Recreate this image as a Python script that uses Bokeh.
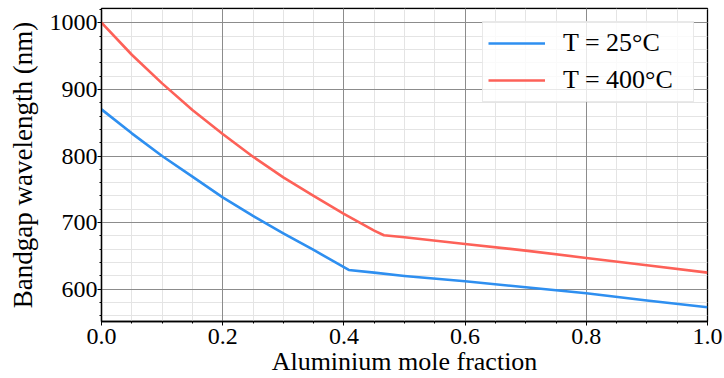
import numpy as np
from bokeh.plotting import figure
from bokeh.models import FixedTicker, Legend, LegendItem, Range1d, Grid
from bokeh.embed import file_html
from bokeh.resources import INLINE

# Aluminium mole fraction vs bandgap wavelength (nm)
x_25 = [0.0, 0.05, 0.10, 0.15, 0.20, 0.25, 0.30, 0.35, 0.408, 0.45, 0.50, 0.60, 0.70, 0.80, 0.90, 1.0]
wl_25 = [870, 834, 800, 769, 738, 710, 684, 659, 629, 625, 620, 612, 603, 594, 583, 573]

x_400 = [0.0, 0.05, 0.10, 0.15, 0.20, 0.25, 0.30, 0.35, 0.40, 0.45, 0.466, 0.50, 0.60, 0.70, 0.80, 0.90, 1.0]
wl_400 = [1000, 952, 909, 869, 833, 799, 768, 740, 713, 688, 681, 678, 668, 658, 647, 636, 625]

series_labels = ["T = 25°C", "T = 400°C"]
series_colors = ["#2e8ff0", "#fd6158"]

xticks = [0.0, 0.2, 0.4, 0.6, 0.8, 1.0]
xtick_labels = ["0.0", "0.2", "0.4", "0.6", "0.8", "1.0"]
yticks = [600, 700, 800, 900, 1000]
ytick_labels = ["600", "700", "800", "900", "1000"]

x_title = "Aluminium mole fraction"
y_title = "Bandgap wavelength (nm)"

FONT = "Liberation Serif"

p = figure(width=724, height=378, output_backend="svg", toolbar_location=None,
           x_range=Range1d(0, 1), y_range=Range1d(551.6, 1021.4),
           min_border_left=101, min_border_right=17, min_border_top=8, min_border_bottom=0)

p.background_fill_color = "white"
p.border_fill_color = "white"
p.outline_line_color = "black"
p.outline_line_width = 1.3

x_minor = [float(v) for v in np.round(np.arange(0, 1.0001, 0.05), 2)]
y_minor = [float(v) for v in np.arange(560, 1021, 20)]
p.xaxis.ticker = FixedTicker(ticks=xticks, minor_ticks=x_minor)
p.yaxis.ticker = FixedTicker(ticks=yticks, minor_ticks=y_minor)
p.xaxis.major_label_overrides = {t: l for t, l in zip(xticks, xtick_labels)}
p.yaxis.major_label_overrides = {t: l for t, l in zip(yticks, ytick_labels)}

for ax in (p.xaxis, p.yaxis):
    ax.axis_line_color = "black"
    ax.axis_line_width = 1.3
    ax.major_tick_line_color = "black"
    ax.minor_tick_line_color = "black"
    ax.major_tick_in = 0
    ax.major_tick_out = 4
    ax.minor_tick_in = 0
    ax.minor_tick_out = 2
    ax.major_label_text_font = FONT
    ax.major_label_text_font_size = "24px"
    ax.major_label_text_color = "black"
    ax.axis_label_text_font = FONT
    ax.axis_label_text_font_style = "normal"
    ax.axis_label_text_color = "black"

p.xaxis.axis_label = x_title
p.yaxis.axis_label = y_title
p.xaxis.axis_label_text_font_size = "26px"
p.yaxis.axis_label_text_font_size = "27px"
p.xaxis.major_label_standoff = 3
p.xaxis.axis_label_standoff = 0
p.yaxis.major_label_standoff = 0
p.yaxis.axis_label_standoff = 9

# minor grid first (underneath), then major grid on top
for g in (p.xgrid, p.ygrid):
    g.grid_line_color = None
    g.minor_grid_line_color = "#e4e4e4"
    g.minor_grid_line_width = 1

p.add_layout(Grid(dimension=0, ticker=FixedTicker(ticks=xticks),
                  grid_line_color="#8c8c8c", grid_line_width=1))
p.add_layout(Grid(dimension=1, ticker=FixedTicker(ticks=yticks),
                  grid_line_color="#8c8c8c", grid_line_width=1))

r1 = p.line(x_25, wl_25, line_color=series_colors[0], line_width=2.6, line_join="round")
r2 = p.line(x_400, wl_400, line_color=series_colors[1], line_width=2.6, line_join="round")

legend = Legend(items=[LegendItem(label=series_labels[0], renderers=[r1]),
                       LegendItem(label=series_labels[1], renderers=[r2])],
                location="top_right")
legend.margin = 13
legend.padding = 5
legend.spacing = 5
legend.glyph_width = 57
legend.glyph_height = 32
legend.label_height = 32
legend.label_width = 125
legend.label_standoff = 18
legend.label_text_font = FONT
legend.label_text_font_size = "26px"
legend.label_text_color = "black"
legend.border_line_color = "#d4d4d4"
legend.border_line_width = 1
legend.background_fill_color = "white"
legend.background_fill_alpha = 0.8
p.add_layout(legend)

open("out.html", "w").write(file_html(p, INLINE))
